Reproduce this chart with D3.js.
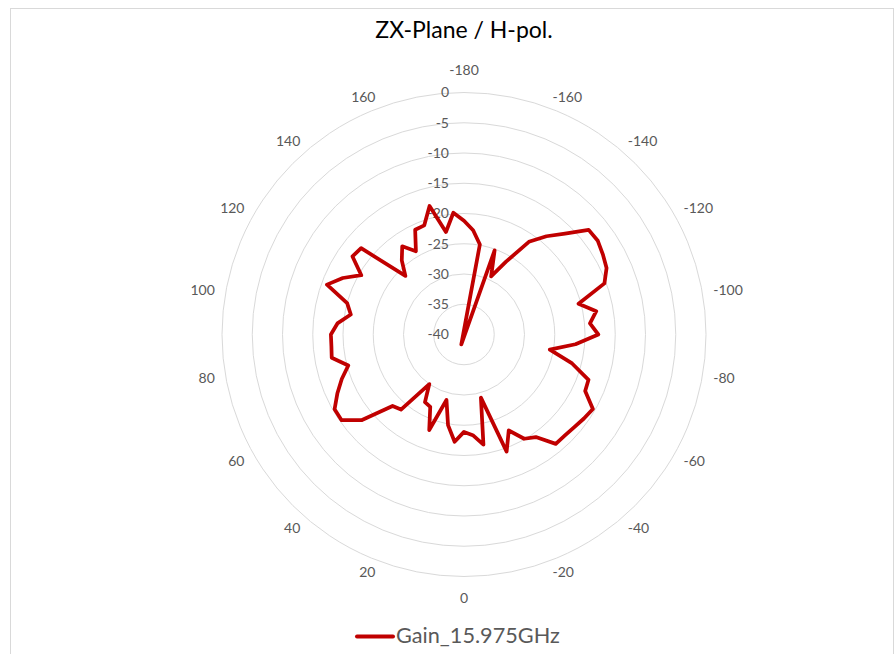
<!DOCTYPE html>
<html>
<head>
<meta charset="utf-8">
<script src="https://cdn.jsdelivr.net/npm/d3@7"></script>
<style>
  body { margin: 0; background: #fff; }
  text { font-family: Lato, "Open Sans", sans-serif; }
</style>
</head>
<body>
<script>
/* angle categories (deg), one point every 5 deg, clockwise from the top */
var angles = [-180, -175, -170, -165, -160, -155, -150, -145, -140, -135, -130, -125,
  -120, -115, -110, -105, -100, -95, -90, -85, -80, -75, -70, -65,
  -60, -55, -50, -45, -40, -35, -30, -25, -20, -15, -10, -5,
  0, 5, 10, 15, 20, 25, 30, 35, 40, 45, 50, 55,
  60, 65, 70, 75, 80, 85, 90, 95, 100, 105, 110, 115,
  120, 125, 130, 135, 140, 145, 150, 155, 160, 165, 170, 175]

/* gain in dB */
var gain = [-21.2, -22.7, -24.9, -41.7, -25.2, -29.4, -26.1, -21.3, -18.8, -16.4, -13.1, -13.0,
  -13.5, -14.0, -15.3, -20.4, -17.8, -19.1, -17.8, -21.5, -25.6, -21.5, -18.1, -17.9,
  -15.4, -15.8, -16.2, -16.4, -16.4, -19.3, -20.1, -22.5, -19.4, -29.2, -21.5, -23.3,
  -23.9, -22.2, -24.8, -28.8, -23.2, -26.8, -27.1, -30.0, -23.8, -23.3, -18.0, -15.3,
  -15.3, -16.9, -18.5, -20.2, -17.8, -18.0, -18.0, -19.0, -21.0, -20.0, -15.9, -17.9,
  -20.4, -17.5, -17.8, -26.3, -24.0, -22.2, -24.1, -20.9, -20.8, -18.0, -22.8, -19.8]

var ringTicks = [0, -5, -10, -15, -20, -25, -30, -35, -40]
var angleLabels = [-180, -160, -140, -120, -100, -80, -60, -40, -20, 0, 20, 40, 60, 80, 100, 120, 140, 160]

var seriesName = "Gain_15.975GHz"
var title = "ZX-Plane / H-pol."

draw()

function draw() {
  var width = 896, height = 654
  var cx = 464, cy = 334.5, outer = 242

  var svg = d3.select("body").append("svg")
    .attr("width", width)
    .attr("height", height)

  // chart area border
  svg.append("rect")
    .attr("x", 10.5).attr("y", 8.5)
    .attr("width", 883).attr("height", 680)
    .attr("fill", "none")
    .attr("stroke", "#d9d9d9")

  var angle = d3.scaleLinear().domain([-180, 180]).range([0, 2 * Math.PI])
  var r = d3.scaleLinear().domain([-40, 0]).range([0, outer])

  var g = svg.append("g")
    .attr("transform", "translate(" + cx + "," + cy + ")")

  g.append("g").selectAll("circle")
    .data(ringTicks)
    .enter()
    .append("circle")
    .attr("r", function(d) { return r(d) })
    .attr("fill", "none")
    .attr("stroke", "#d9d9d9")
    .attr("stroke-width", 1)

  // value axis labels
  g.append("g").selectAll("text")
    .data(ringTicks)
    .enter()
    .append("text")
    .attr("x", -15)
    .attr("y", function(d) { return -r(d) })
    .attr("dy", "0.35em")
    .attr("text-anchor", "end")
    .attr("fill", "#595959")
    .style("font-size", "14px")
    .text(function(d) { return d })

  // category labels, pushed out by their own width like Excel does
  var catLabels = g.append("g").selectAll("text")
    .data(angleLabels)
    .enter()
    .append("text")
    .attr("dy", "0.35em")
    .attr("text-anchor", "middle")
    .attr("fill", "#595959")
    .style("font-size", "14px")
    .text(function(d) { return d })

  catLabels.each(function(d) {
    var a = angle(d), s = Math.sin(a), c = Math.cos(a)
    var w = this.getComputedTextLength()
    var side = Math.abs(s) > 0.1
    var x = 250 * s + (side ? Math.sign(s) * (w / 2 + 3) : 0)
    var y = -250 * c - Math.sign(c) * (side ? 3 * Math.abs(c) : 14)
    d3.select(this).attr("x", x).attr("y", y)
  })

  var line = d3.lineRadial()
    .angle(function(d, i) { return angle(angles[i]) })
    .radius(function(d) { return r(d) })
    .curve(d3.curveLinearClosed)

  g.append("path")
    .datum(gain)
    .attr("d", line)
    .attr("fill", "none")
    .attr("stroke", "#c00000")
    .attr("stroke-width", 3.75)
    .attr("stroke-linejoin", "round")

  svg.append("text")
    .attr("x", 464).attr("y", 38)
    .attr("text-anchor", "middle")
    .attr("fill", "#000")
    .style("font-size", "23px")
    .text(title)

  // legend
  svg.append("line")
    .attr("x1", 357).attr("x2", 393)
    .attr("y1", 636.5).attr("y2", 636.5)
    .attr("stroke", "#c00000")
    .attr("stroke-width", 4)
    .attr("stroke-linecap", "round")

  svg.append("text")
    .attr("x", 396).attr("y", 643)
    .attr("fill", "#595959")
    .style("font-size", "21.7px")
    .text(seriesName)
}
</script>
</body>
</html>
